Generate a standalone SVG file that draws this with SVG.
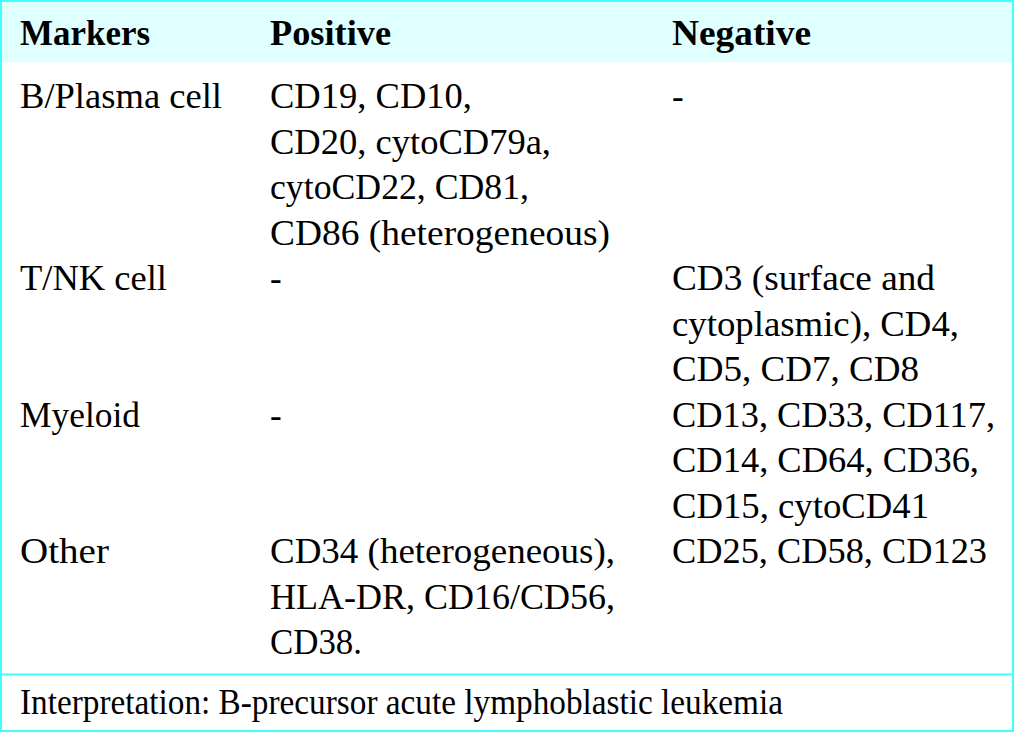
<svg xmlns="http://www.w3.org/2000/svg" width="1015" height="733" viewBox="0 0 1015 733">
<style>
.t{font-family:"Liberation Serif","Times New Roman",serif;font-size:35px;fill:#000}
.h{font-weight:bold}
</style>
<rect x="0" y="0" width="1015" height="733" fill="#fff"/>
<rect id="header-bg" x="1" y="1" width="1012" height="61" fill="#e0ffff"/>
<g id="lines" stroke="#40ffff" stroke-width="2" fill="none">
<rect x="1" y="1" width="1012" height="730"/>
<line x1="1" y1="674.5" x2="1013" y2="674.5"/>
</g>
<g id="header" class="t h">
<text x="20" y="45" textLength="130" lengthAdjust="spacingAndGlyphs">Markers</text>
<text x="270" y="45" textLength="121" lengthAdjust="spacingAndGlyphs">Positive</text>
<text x="672" y="45" textLength="139" lengthAdjust="spacingAndGlyphs">Negative</text>
</g>
<g id="row-b" class="t">
<text x="20" y="108" textLength="202" lengthAdjust="spacingAndGlyphs">B/Plasma cell</text>
<text x="270" y="108" textLength="202" lengthAdjust="spacingAndGlyphs">CD19, CD10,</text>
<text x="270" y="153.5" textLength="281" lengthAdjust="spacingAndGlyphs">CD20, cytoCD79a,</text>
<text x="270" y="199" textLength="259" lengthAdjust="spacingAndGlyphs">cytoCD22, CD81,</text>
<text x="270" y="244.5" textLength="340" lengthAdjust="spacingAndGlyphs">CD86 (heterogeneous)</text>
<text x="672" y="108">-</text>
</g>
<g id="row-t" class="t">
<text x="20" y="290" textLength="147" lengthAdjust="spacingAndGlyphs">T/NK cell</text>
<text x="270" y="290">-</text>
<text x="672" y="290" textLength="263" lengthAdjust="spacingAndGlyphs">CD3 (surface and</text>
<text x="672" y="335.5" textLength="287" lengthAdjust="spacingAndGlyphs">cytoplasmic), CD4,</text>
<text x="672" y="381" textLength="247" lengthAdjust="spacingAndGlyphs">CD5, CD7, CD8</text>
</g>
<g id="row-m" class="t">
<text x="20" y="426.5" textLength="120" lengthAdjust="spacingAndGlyphs">Myeloid</text>
<text x="270" y="426.5">-</text>
<text x="672" y="426.5" textLength="323" lengthAdjust="spacingAndGlyphs">CD13, CD33, CD117,</text>
<text x="672" y="472" textLength="307" lengthAdjust="spacingAndGlyphs">CD14, CD64, CD36,</text>
<text x="672" y="517.5" textLength="257" lengthAdjust="spacingAndGlyphs">CD15, cytoCD41</text>
</g>
<g id="row-o" class="t">
<text x="20" y="563" textLength="89" lengthAdjust="spacingAndGlyphs">Other</text>
<text x="270" y="563" textLength="345" lengthAdjust="spacingAndGlyphs">CD34 (heterogeneous),</text>
<text x="270" y="608.5" textLength="345" lengthAdjust="spacingAndGlyphs">HLA-DR, CD16/CD56,</text>
<text x="270" y="654" textLength="92" lengthAdjust="spacingAndGlyphs">CD38.</text>
<text x="672" y="563" textLength="315" lengthAdjust="spacingAndGlyphs">CD25, CD58, CD123</text>
</g>
<g id="footer" class="t">
<text x="20" y="714" textLength="763" lengthAdjust="spacingAndGlyphs">Interpretation: B-precursor acute lymphoblastic leukemia</text>
</g>
</svg>
